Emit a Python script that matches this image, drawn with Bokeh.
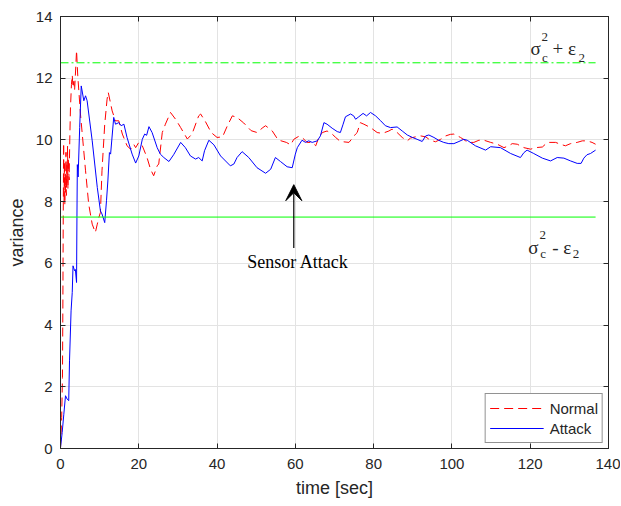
from bokeh.plotting import figure
from bokeh.models import (Range1d, LinearAxis, Label, Arrow, VeeHead, Legend, LegendItem,
                          FixedTicker, CustomJSTickFormatter)
from bokeh.embed import file_html
from bokeh.resources import INLINE

# ---------------- data ----------------
normal_t = [0.0, 0.3, 0.5, 0.6, 0.7, 0.8, 0.9, 1.0, 1.1, 1.2, 1.3, 1.4, 1.5, 1.6, 1.7, 1.8, 1.9, 2.0,
            2.2, 2.4, 2.55, 2.8, 3.0, 3.2, 3.4, 3.6, 3.8, 4.1, 4.4, 5.1, 6.4, 7.2, 8.1, 8.9, 9.4, 9.8,
            10.2, 10.6, 11.3, 11.9, 12.2, 13.2, 14.05, 14.9, 15.8, 17.0, 17.9, 18.7, 19.2, 20.0, 20.9,
            22.1, 23.0, 23.8, 24.7, 25.1, 26.0, 26.8, 28.1, 29.4, 30.7, 32.4, 33.6, 35.3, 35.8, 37.0,
            38.5, 40.0, 41.4, 42.6, 43.9, 45.1, 46.8, 48.7, 50.2, 51.7, 52.4, 54.1, 55.6, 57.7, 58.8,
            59.6, 60.9, 61.7, 63.0, 64.3, 65.2, 66.0, 66.9, 68.1, 69.4, 70.3, 71.5, 73.7, 75.4, 75.8,
            76.6, 77.5, 79.2, 80.9, 82.2, 83.9, 84.7, 86.0, 87.3, 88.6, 89.4, 90.7, 92.0, 93.3, 94.5,
            95.8, 97.1, 98.4, 99.6, 100.5, 102.2, 103.5, 104.3, 105.6, 106.9, 108.2, 109.9, 111.6,
            113.3, 114.5, 115.4, 116.7, 118.4, 120.1, 121.4, 123.1, 124.4, 126.5, 127.7, 129.0, 130.3,
            132.0, 133.3, 134.5, 135.8, 136.7]
normal_v = [0.0, 1.0, 2.3, 4.5, 7.5, 9.9, 8.0, 9.3, 7.9, 8.9, 8.3, 9.6, 8.2, 9.2, 8.6, 9.8, 8.4, 9.4,
            8.7, 10.2, 11.05, 11.8, 12.1, 11.7, 11.9, 11.6, 12.1, 12.9, 12.1, 10.84, 9.0, 7.92, 7.27,
            7.0, 7.27, 7.49, 7.65, 9.0, 10.51, 11.32, 11.54, 10.94, 10.62, 10.62, 10.19, 9.81, 9.70,
            9.86, 9.75, 9.92, 9.81, 9.43, 9.05, 8.84, 9.16, 9.22, 10.24, 10.51, 10.89, 10.67, 10.40,
            10.03, 10.19, 10.78, 10.84, 10.6, 10.24, 10.08, 10.1, 10.45, 10.78, 10.73, 10.55, 10.3,
            10.24, 10.4, 10.46, 10.29, 10.0, 9.92, 9.84, 10.02, 10.12, 10.08, 9.92, 9.92, 9.81, 10.08,
            10.24, 10.29, 10.19, 10.08, 9.95, 9.92, 10.19, 10.24, 10.56, 10.51, 10.40, 10.24, 10.21,
            10.29, 10.35, 10.24, 10.08, 9.97, 10.06, 10.10, 10.13, 10.10, 9.99, 9.94, 10.02, 10.13,
            10.18, 10.19, 10.08, 9.97, 9.92, 9.92, 9.99, 9.99, 9.92, 9.86, 9.75, 9.81, 9.88, 9.86,
            9.75, 9.70, 9.75, 9.77, 9.92, 9.92, 9.86, 9.81, 9.88, 9.92, 9.97, 9.97, 9.92, 9.86]

attack_t = [0.0, 0.43, 0.85, 1.28, 1.7, 2.1, 2.3, 2.7, 3.0, 3.2, 3.6, 3.8, 4.1, 4.2, 4.3, 4.5, 4.9,
            5.3, 5.96, 6.4, 6.8, 8.1, 9.4, 10.2, 10.6, 11.3, 11.75, 12.1, 12.5, 12.8, 13.6, 14.05,
            14.9, 15.5, 16.2, 17.0, 18.3, 19.2, 20.0, 20.9, 21.5, 22.0, 22.6, 23.4, 24.7, 25.5, 26.4,
            27.7, 28.9, 30.7, 31.9, 33.2, 34.5, 35.3, 36.2, 36.8, 37.9, 39.2, 40.9, 43.4, 44.3, 45.1,
            46.4, 48.1, 50.2, 52.4, 53.7, 54.9, 56.2, 57.9, 59.2, 60.0, 60.5, 61.7, 62.6, 63.4, 64.3,
            65.6, 66.4, 67.3, 68.1, 69.4, 70.7, 71.5, 72.2, 72.8, 74.1, 74.9, 75.4, 76.2, 77.3, 78.2,
            79.2, 80.5, 81.8, 83.0, 84.3, 86.0, 87.3, 88.6, 89.9, 91.1, 92.4, 93.3, 94.1, 95.4, 96.6,
            97.9, 99.2, 100.5, 101.8, 103.0, 103.9, 106.0, 108.6, 109.9, 112.4, 115.0, 117.5, 118.4,
            119.2, 120.9, 123.1, 125.2, 126.9, 128.6, 130.3, 132.0, 133.0, 133.7, 134.5, 135.4, 136.7]
attack_v = [0.03, 0.52, 1.11, 1.71, 1.6, 1.55, 2.84, 4.46, 5.06, 5.92, 5.76, 5.8, 5.38, 7.5, 9.2,
            8.8, 10.4, 11.75, 11.27, 11.43, 11.27, 9.97, 8.46, 7.7, 7.6, 7.32, 8.03, 8.67, 9.59, 9.54,
            10.73, 10.51, 10.56, 10.46, 10.51, 10.08, 9.54, 9.25, 9.48, 10.02, 10.19, 10.15, 10.43,
            10.24, 9.75, 9.54, 9.43, 9.3, 9.52, 9.92, 9.75, 9.48, 9.38, 9.43, 9.32, 9.65, 9.99, 9.84,
            9.48, 9.16, 9.22, 9.43, 9.62, 9.43, 9.1, 8.92, 9.05, 9.43, 9.3, 9.13, 9.1, 9.54, 9.75,
            9.99, 9.92, 9.97, 9.92, 9.97, 10.13, 10.56, 10.51, 10.38, 10.27, 10.24, 10.51, 10.75,
            10.84, 10.78, 10.67, 10.75, 10.86, 10.78, 10.89, 10.78, 10.62, 10.46, 10.40, 10.42, 10.29,
            10.16, 10.08, 10.02, 9.95, 10.13, 10.16, 10.08, 9.99, 9.92, 9.88, 9.88, 9.95, 10.02, 9.99,
            9.81, 9.67, 9.78, 9.75, 9.56, 9.43, 9.59, 9.67, 9.56, 9.41, 9.32, 9.43, 9.41, 9.32, 9.24,
            9.24, 9.41, 9.52, 9.56, 9.67]

bound_t = [0, 136.7]
upper_bound = [12.5, 12.5]
lower_bound = [7.5, 7.5]

x_ticks = [0, 20, 40, 60, 80, 100, 120, 140]
y_ticks = [0, 2, 4, 6, 8, 10, 12, 14]

# ---------------- figure ----------------
AX = "#262626"
p = figure(width=620, height=504, output_backend="svg", toolbar_location=None,
           x_range=Range1d(0, 140), y_range=Range1d(0, 14),
           min_border_left=60, min_border_right=12, min_border_top=16, min_border_bottom=56,
           background_fill_color="white", border_fill_color="white")
p.outline_line_color = AX
p.outline_line_width = 1

for ax in (p.xaxis[0], p.yaxis[0]):
    ax.major_tick_in = 5
    ax.major_tick_out = 0
    ax.minor_tick_line_color = None
    ax.axis_line_color = AX
    ax.major_tick_line_color = AX
    ax.major_label_text_font = "Liberation Sans"
    ax.major_label_text_font_size = "15px"
    ax.major_label_text_color = AX
    ax.axis_label_text_font = "Liberation Sans"
    ax.axis_label_text_font_size = "18px"
    ax.axis_label_text_font_style = "normal"
    ax.axis_label_text_color = AX

p.xaxis[0].ticker = FixedTicker(ticks=x_ticks)
p.yaxis[0].ticker = FixedTicker(ticks=y_ticks)
p.xaxis[0].axis_label = "time [sec]"
p.yaxis[0].axis_label = "variance"
p.xaxis[0].major_label_standoff = 10
p.xaxis[0].axis_label_standoff = 6
p.yaxis[0].major_label_standoff = 8
p.yaxis[0].axis_label_standoff = 6

blank = CustomJSTickFormatter(code="return '';")
top_ax = LinearAxis(ticker=FixedTicker(ticks=x_ticks), formatter=blank, major_tick_in=5,
                    major_tick_out=0, minor_tick_line_color=None, axis_line_color=AX,
                    major_tick_line_color=AX, major_label_standoff=0)
right_ax = LinearAxis(ticker=FixedTicker(ticks=y_ticks), formatter=blank, major_tick_in=5,
                      major_tick_out=0, minor_tick_line_color=None, axis_line_color=AX,
                      major_tick_line_color=AX, major_label_standoff=0)
p.add_layout(top_ax, "above")
p.add_layout(right_ax, "right")

p.xgrid.ticker = FixedTicker(ticks=x_ticks)
p.ygrid.ticker = FixedTicker(ticks=y_ticks)
p.grid.grid_line_color = "#e3e3e3"
p.grid.grid_line_width = 1

# ---------------- series ----------------
r_normal = p.line(normal_t, normal_v, line_color="#ff0000", line_width=1, line_dash="9 5")
r_attack = p.line(attack_t, attack_v, line_color="#0000ff", line_width=1)
p.line(bound_t, upper_bound, line_color="#00ff00", line_width=1, line_dash="8 3 2 3")
p.line(bound_t, lower_bound, line_color="#00ff00", line_width=1)

legend = Legend(items=[LegendItem(label="Normal", renderers=[r_normal]),
                       LegendItem(label="Attack", renderers=[r_attack])],
                location="bottom_right", margin=5, padding=4, spacing=0,
                glyph_width=54, glyph_height=20, label_height=20, label_standoff=6,
                label_text_font="Liberation Sans", label_text_font_size="15px",
                label_text_color=AX, border_line_color=AX, border_line_width=1,
                background_fill_color="white", background_fill_alpha=1)
p.add_layout(legend)

# ---------------- annotations ----------------
SERIF = "Liberation Serif"

def math_label(x, y, parts):
    for txt, dx, dy, size in parts:
        p.add_layout(Label(x=x, y=y, x_offset=dx, y_offset=dy, text=txt, text_font=SERIF,
                           text_font_size=size, text_color=AX, text_baseline="alphabetic",
                           text_align="left"))

math_label(120.1, 12.95, [("σ", 0, 0, "19px"), ("2", 11, 12, "13px"), ("c", 11.5, -9, "13px"),
                          ("+ ε", 22, 0, "19px"), ("2", 48, -9, "13px")])
math_label(119.5, 6.5, [("σ", 0, 0, "19px"), ("2", 11.3, 13, "13px"), ("c", 12, -6, "13px"),
                        ("- ε", 24, 0, "19px"), ("2", 44.5, -6, "13px")])

p.add_layout(Arrow(end=VeeHead(size=16, fill_color="black", line_color="black"),
                   x_start=59.6, y_start=6.5, x_end=59.6, y_end=8.55,
                   line_color="black", line_width=1.2))
p.add_layout(Label(x=60.7, y=6.05, text="Sensor Attack", text_font=SERIF, text_font_size="18px",
                   text_color="black", text_align="center", text_baseline="alphabetic"))

open("out.html", "w").write(file_html(p, INLINE))
